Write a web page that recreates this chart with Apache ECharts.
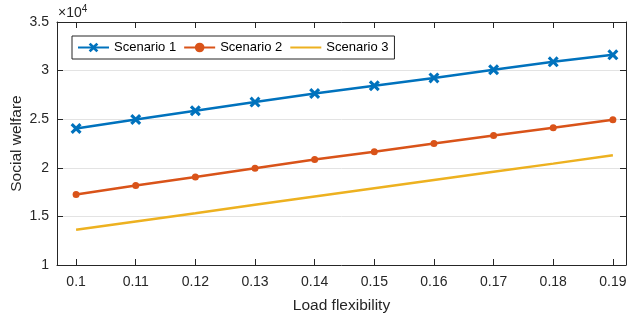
<!DOCTYPE html>
<html>
<head>
    <meta charset="utf-8">
    <title>index</title>
    <style>
        html, body { margin: 0; padding: 0; background: #fff; }
        #container { width: 628px; height: 320px; }
    </style>
</head>
<body>
    <div id="container"></div>
    <script src="https://cdn.jsdelivr.net/npm/echarts@6/dist/echarts.min.js"></script>
    <script type="text/javascript">
        // load flexibility (x) and social welfare values
        var flexibility = [0.1, 0.11, 0.12, 0.13, 0.14, 0.15, 0.16, 0.17, 0.18, 0.19];
        var scenario1 = [24050, 24970, 25870, 26760, 27640, 28440, 29250, 30080, 30900, 31620];
        var scenario2 = [17250, 18170, 19060, 19950, 20850, 21650, 22510, 23330, 24130, 24940];
        var scenario3 = [13620, 14470, 15320, 16200, 17050, 17900, 18750, 19600, 20430, 21280];

        var axisColor = '#262626';
        var font = 'Liberation Sans, Arial, sans-serif';
        var crossPath = 'path://M0,2 L2,0 L5,3 L8,0 L10,2 L7,5 L10,8 L8,10 L5,7 L2,10 L0,8 L3,5 Z';

        function pairs(ys) {
            var out = [];
            for (var i = 0; i < flexibility.length; i++) {
                out.push([flexibility[i], ys[i]]);
            }
            return out;
        }

        var myChart = echarts.init(document.getElementById('container'));
        var xMin = 0.0968, xMax = 0.1922;

        var option = {
            animation: false,
            grid: { left: 57, right: 2, top: 22, bottom: 55, outerBoundsMode: 'none', containLabel: false },
            legend: {
                left: 72,
                top: 36,
                orient: 'horizontal',
                backgroundColor: '#fff',
                borderColor: axisColor,
                borderWidth: 1,
                borderRadius: 0,
                padding: [5, 6, 5, 5],
                itemWidth: 31,
                itemHeight: 12,
                itemGap: 7,
                textStyle: { fontFamily: font, fontSize: 13, color: '#000' },
                data: ['Scenario 1', 'Scenario 2', { name: 'Scenario 3', itemStyle: { opacity: 0 } }]
            },
            graphic: [{
                type: 'text',
                left: 58,
                top: 4,
                style: {
                    text: '×10{s|4}',
                    fontFamily: font,
                    fontSize: 14,
                    fill: axisColor,
                    rich: { s: { fontSize: 10, verticalAlign: 'top', padding: [0, 0, 8, 0], fill: axisColor, fontFamily: font } }
                }
            }],
            xAxis: [{
                type: 'value',
                min: xMin,
                max: xMax,
                name: 'Load flexibility',
                nameLocation: 'middle',
                nameMoveOverlap: false,
                nameGap: 33,
                nameTextStyle: { fontFamily: font, fontSize: 15.5, color: axisColor },
                axisLine: { lineStyle: { color: axisColor, width: 1 } },
                axisTick: { inside: true, length: 6, customValues: flexibility, lineStyle: { color: axisColor } },
                axisLabel: {
                    customValues: flexibility,
                    margin: 10,
                    fontFamily: font, fontSize: 14, color: axisColor,
                    formatter: function (v) { return String(+v.toFixed(2)); }
                },
                splitLine: { show: false }
            }, {
                type: 'value',
                position: 'top',
                min: xMin,
                max: xMax,
                axisLine: { lineStyle: { color: axisColor, width: 1 } },
                axisTick: { inside: true, length: 6, customValues: flexibility, lineStyle: { color: axisColor } },
                axisLabel: { show: false },
                splitLine: { show: false }
            }],
            yAxis: [{
                type: 'value',
                min: 10000,
                max: 35000,
                interval: 5000,
                name: 'Social welfare',
                nameLocation: 'middle',
                nameMoveOverlap: false,
                nameGap: 32,
                nameTextStyle: { fontFamily: font, fontSize: 15.5, color: axisColor },
                axisLine: { show: true, lineStyle: { color: axisColor, width: 1 } },
                axisTick: { show: true, inside: true, length: 6, lineStyle: { color: axisColor } },
                axisLabel: {
                    margin: 8,
                    fontFamily: font, fontSize: 14, color: axisColor,
                    formatter: function (v) { return String(v / 10000); }
                },
                splitLine: { show: true, lineStyle: { color: '#e3e3e3', width: 1 } }
            }, {
                type: 'value',
                position: 'right',
                min: 10000,
                max: 35000,
                interval: 5000,
                axisLine: { show: true, lineStyle: { color: axisColor, width: 1 } },
                axisTick: { show: true, inside: true, length: 6, lineStyle: { color: axisColor } },
                axisLabel: { show: false },
                splitLine: { show: false }
            }],
            series: [{
                name: 'Scenario 1',
                type: 'line',
                data: pairs(scenario1),
                symbol: crossPath,
                symbolSize: 11,
                color: '#0072BD',
                lineStyle: { width: 2.5, color: '#0072BD' },
                itemStyle: { color: '#0072BD' },
                z: 3
            }, {
                name: 'Scenario 2',
                type: 'line',
                data: pairs(scenario2),
                symbol: 'circle',
                symbolSize: 7,
                color: '#D95319',
                lineStyle: { width: 2.5, color: '#D95319' },
                itemStyle: { color: '#D95319' },
                z: 2
            }, {
                name: 'Scenario 3',
                type: 'line',
                data: pairs(scenario3),
                symbol: 'none',
                color: '#EDB120',
                lineStyle: { width: 2.5, color: '#EDB120' },
                itemStyle: { color: '#EDB120' },
                z: 1
            }]
        };
        myChart.setOption(option);
    </script>
</body>
</html>
